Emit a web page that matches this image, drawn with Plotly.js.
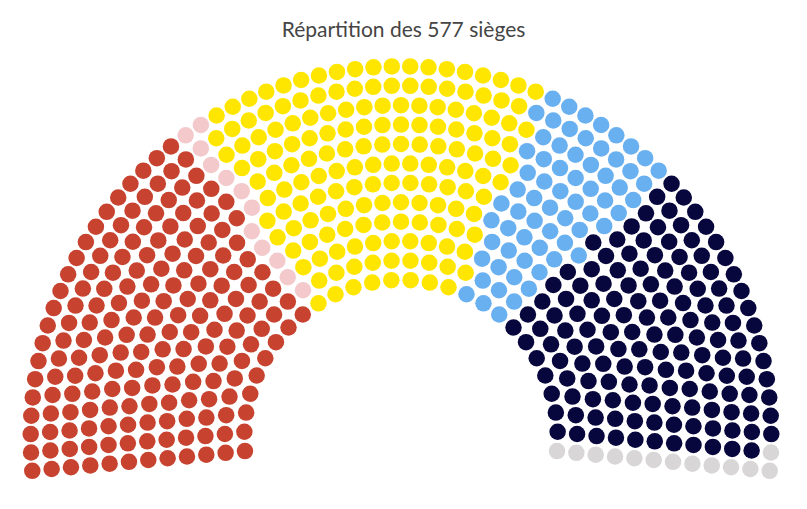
<!DOCTYPE html>
<html>
<head>
<meta charset="utf-8">
<script src="https://cdn.plot.ly/plotly-3.0.1.min.js"></script>
<style>
  html, body { margin: 0; padding: 0; background: #fff; }
  #chart { width: 807px; height: 509px; }
</style>
</head>
<body>
<div id="chart"></div>
<script>
// Seats per group (left to right)
var parties = ['Nouveau Front populaire', 'Divers gauche', 'Ensemble', 'LR et divers droite', 'RN et alliés', 'Autres'];
var seats = [180, 12, 163, 66, 143, 13];
var colors = ['#c7432f', '#f3c9cc', '#ffe600', '#69b0f0', '#07063d', '#d8d6d7'];

// Seats on each row of the hemicycle, inner row first
var row_sizes = [28, 32, 36, 39, 43, 46, 50, 53, 57, 61, 64, 68];

var inner_r = 156.7 / 370.3;  // relative to outer row
var overhang = 5.3;            // degrees below the horizontal on each side

function parliament(){
    var n_rows = row_sizes.length;
    var span = 180 + 2 * overhang;
    var all = [];
    for (var i = 0; i < n_rows; i++){
        var r = inner_r + (1 - inner_r) * i / (n_rows - 1);
        var n = row_sizes[i];
        for (var j = 0; j < n; j++){
            var deg = 180 + overhang - j * span / (n - 1);
            all.push({r: r, a: deg});
        }
    }
    // seats are handed out from the left end to the right end
    all.sort(function(a, b){ return (b.a - a.a) || (b.r - a.r); });

    var data = [];
    var k = 0;
    for (var p = 0; p < parties.length; p++){
        var xs = [];
        var ys = [];
        for (var s = 0; s < seats[p]; s++){
            var rad = all[k].a * Math.PI / 180;
            xs.push(all[k].r * Math.cos(rad));
            ys.push(all[k].r * Math.sin(rad));
            k++;
        }
        data.push({
            x: xs,
            y: ys,
            name: parties[p],
            type: 'scatter',
            mode: 'markers',
            marker: {size: 16.5, color: colors[p], line: {width: 0}},
            hovertemplate: parties[p] + '<extra></extra>'
        });
    }

    var layout = {
        width: 807,
        height: 509,
        margin: {l: 0, r: 0, t: 0, b: 0},
        paper_bgcolor: '#ffffff',
        plot_bgcolor: '#ffffff',
        showlegend: false,
        title: {
            text: 'Répartition des 577 sièges',
            font: {family: 'Lato, "Open Sans", sans-serif', size: 21, color: '#454545'},
            x: 0.5, xanchor: 'center',
            y: 1 - 30 / 509, yanchor: 'middle'
        },
        xaxis: {range: [-401 / 370.3, 406 / 370.3], visible: false, fixedrange: true},
        yaxis: {range: [-72.4 / 370.3, 436.6 / 370.3], visible: false, fixedrange: true}
    };

    Plotly.newPlot('chart', data, layout, {displayModeBar: false, staticPlot: true});
}

parliament();
</script>
</body>
</html>
